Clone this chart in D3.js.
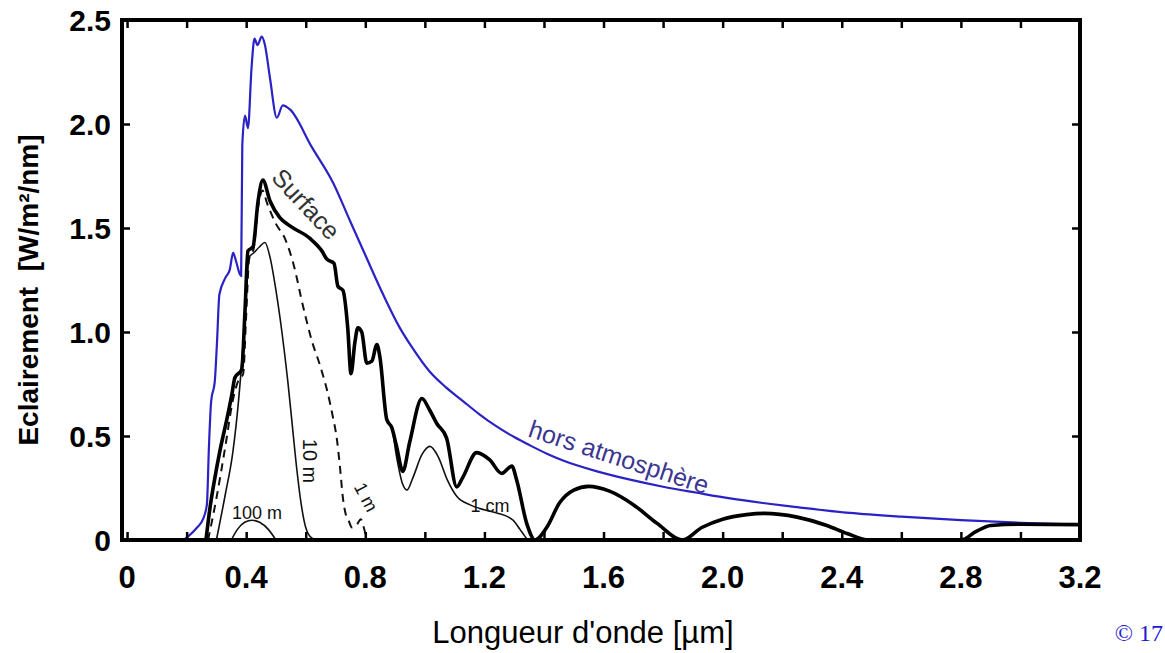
<!DOCTYPE html>
<html>
<head>
<meta charset="utf-8">
<script src="https://cdn.jsdelivr.net/npm/d3@7"></script>
<style>
  body { margin: 0; background: #fff; }
  svg { display: block; }
</style>
</head>
<body>
<script>
'use strict';

// spectral irradiance, [wavelength (µm), W/m²/nm]
const horsAtmosphere = [
  [0.19, 0], [0.235, 0.06], [0.255, 0.10], [0.268, 0.17], [0.275, 0.45], [0.282, 0.66],
  [0.295, 0.77], [0.302, 0.95], [0.31, 1.18], [0.33, 1.26], [0.345, 1.30], [0.356, 1.38],
  [0.366, 1.34], [0.378, 1.28], [0.383, 1.27], [0.387, 1.90], [0.396, 2.04], [0.406, 1.98],
  [0.418, 2.27], [0.428, 2.41], [0.438, 2.38], [0.452, 2.42], [0.463, 2.38], [0.48, 2.22],
  [0.503, 2.03], [0.523, 2.09], [0.547, 2.07], [0.62, 1.89], [0.691, 1.72], [0.75, 1.53],
  [0.8, 1.37], [0.86, 1.18], [0.916, 1.02], [0.96, 0.92], [1.016, 0.81], [1.07, 0.735],
  [1.128, 0.668], [1.18, 0.608], [1.242, 0.545], [1.3, 0.495], [1.353, 0.455], [1.41, 0.415],
  [1.464, 0.382], [1.578, 0.33], [1.689, 0.29], [1.80, 0.256], [1.914, 0.227], [2.025, 0.20],
  [2.135, 0.178], [2.25, 0.158], [2.427, 0.13], [2.6, 0.112], [2.8, 0.096], [3.0, 0.083],
  [3.2, 0.074]
];

const surface = [
  [0.265, 0], [0.278, 0.15], [0.295, 0.30], [0.312, 0.43], [0.335, 0.58], [0.352, 0.70],
  [0.362, 0.78], [0.385, 0.82], [0.396, 1.10], [0.406, 1.39], [0.423, 1.41], [0.44, 1.63],
  [0.456, 1.73], [0.48, 1.63], [0.513, 1.55], [0.547, 1.51], [0.614, 1.45], [0.654, 1.39],
  [0.671, 1.35], [0.695, 1.33], [0.708, 1.22], [0.725, 1.20], [0.741, 1.02], [0.752, 0.80],
  [0.765, 0.95], [0.775, 1.02], [0.788, 1.00], [0.805, 0.85], [0.822, 0.86], [0.839, 0.94],
  [0.849, 0.88], [0.872, 0.58], [0.889, 0.54], [0.905, 0.45], [0.926, 0.33], [0.949, 0.47],
  [0.99, 0.68], [1.016, 0.625], [1.04, 0.56], [1.073, 0.49], [1.107, 0.255], [1.127, 0.30],
  [1.174, 0.42], [1.218, 0.385], [1.258, 0.32], [1.292, 0.355], [1.308, 0.29], [1.342, 0.08],
  [1.37, 0], [1.409, 0.06], [1.453, 0.18], [1.5, 0.24], [1.55, 0.258], [1.62, 0.235],
  [1.7, 0.17], [1.78, 0.08], [1.865, 0], [1.93, 0.06], [2.0, 0.10], [2.08, 0.122],
  [2.14, 0.128], [2.25, 0.11], [2.35, 0.07], [2.42, 0.03], [2.49, 0], [2.8, 0],
  [2.85, 0.04], [2.9, 0.07], [3.0, 0.076], [3.2, 0.074]
];

// 1 cm depth: same as surface below 0.889 µm
const depth1cmTail = [
  [0.905, 0.40], [0.925, 0.27], [0.94, 0.24], [0.96, 0.30], [0.99, 0.41], [1.017, 0.45],
  [1.045, 0.40], [1.075, 0.29], [1.107, 0.21], [1.15, 0.17], [1.2, 0.145], [1.242, 0.13],
  [1.296, 0.096], [1.32, 0.05], [1.335, 0.02], [1.345, 0]
];

const depth1m = [
  [0.272, 0], [0.30, 0.2], [0.33, 0.45], [0.355, 0.67], [0.372, 0.76], [0.39, 0.80],
  [0.40, 1.08], [0.41, 1.35], [0.425, 1.40], [0.44, 1.60], [0.455, 1.68], [0.47, 1.62],
  [0.50, 1.52], [0.53, 1.45], [0.56, 1.32], [0.59, 1.13], [0.62, 0.96], [0.65, 0.83],
  [0.675, 0.70], [0.69, 0.60], [0.705, 0.48], [0.715, 0.35], [0.725, 0.20], [0.735, 0.12],
  [0.745, 0.09], [0.755, 0.06], [0.77, 0.07], [0.785, 0.10], [0.795, 0.06], [0.805, 0]
];

const depth10m = [
  [0.30, 0], [0.33, 0.22], [0.355, 0.42], [0.375, 0.68], [0.39, 0.95], [0.40, 1.2],
  [0.41, 1.36], [0.425, 1.38], [0.445, 1.41], [0.463, 1.43], [0.48, 1.36], [0.50, 1.20],
  [0.52, 1.0], [0.54, 0.76], [0.555, 0.55], [0.57, 0.34], [0.585, 0.17], [0.60, 0.06],
  [0.62, 0.01], [0.64, 0]
];

const depth100m = [
  [0.35, 0], [0.37, 0.05], [0.395, 0.085], [0.42, 0.095], [0.445, 0.085], [0.475, 0.05], [0.50, 0]
];

const xTicks = [0, 0.2, 0.4, 0.6, 0.8, 1.0, 1.2, 1.4, 1.6, 1.8, 2.0, 2.2, 2.4, 2.6, 2.8, 3.0, 3.2];
const xTickLabels = ["0", "0.4", "0.8", "1.2", "1.6", "2.0", "2.4", "2.8", "3.2"];
const yTickLabels = ["0", "0.5", "1.0", "1.5", "2.0", "2.5"];

const W = 1165, H = 653;
const mLeft = 122, mRight = 1080, mTop = 20, mBottom = 540;

const svg = d3.select("body").append("svg")
    .attr("width", W)
    .attr("height", H)
    .style("background", "#fff");

// Set the ranges
const x = d3.scaleLinear().domain([-0.017, 3.2]).range([mLeft, mRight]);
const y = d3.scaleLinear().domain([0, 2.5]).range([mBottom, mTop]);

const line = d3.line()
    .x(d => x(d[0]))
    .y(d => y(d[1]))
    .curve(d3.curveMonotoneX);

const depth1cm = surface.filter(d => d[0] <= 0.889).concat(depth1cmTail);

// curves
svg.append("path").attr("d", line(horsAtmosphere))
    .style("fill", "none").style("stroke", "#2a22c4").style("stroke-width", 2.2);
svg.append("path").attr("d", line(depth100m))
    .style("fill", "none").style("stroke", "#111").style("stroke-width", 1.6);
svg.append("path").attr("d", line(depth10m))
    .style("fill", "none").style("stroke", "#111").style("stroke-width", 1.6);
svg.append("path").attr("d", line(depth1m))
    .style("fill", "none").style("stroke", "#111").style("stroke-width", 2)
    .style("stroke-dasharray", "8,6");
svg.append("path").attr("d", line(depth1cm))
    .style("fill", "none").style("stroke", "#111").style("stroke-width", 1.6);
svg.append("path").attr("d", line(surface))
    .style("fill", "none").style("stroke", "#000").style("stroke-width", 3.6);

// inner ticks on all four sides
const tickStyle = g => {
    g.select(".domain").remove();
    g.selectAll("line").style("stroke", "#000").style("stroke-width", 2.5);
    g.selectAll("text").remove();
};
svg.append("g").attr("transform", `translate(0,${mBottom})`)
    .call(d3.axisBottom(x).tickValues(xTicks).tickSize(-8)).call(tickStyle);
svg.append("g").attr("transform", `translate(0,${mTop})`)
    .call(d3.axisTop(x).tickValues(xTicks).tickSize(-8)).call(tickStyle);
svg.append("g").attr("transform", `translate(${mLeft},0)`)
    .call(d3.axisLeft(y).ticks(5).tickSize(-8)).call(tickStyle);
svg.append("g").attr("transform", `translate(${mRight},0)`)
    .call(d3.axisRight(y).ticks(5).tickSize(-8)).call(tickStyle);

// frame
svg.append("rect")
    .attr("x", mLeft).attr("y", mTop)
    .attr("width", mRight - mLeft).attr("height", mBottom - mTop)
    .style("fill", "none").style("stroke", "#000").style("stroke-width", 4);

// tick labels
svg.append("g").selectAll("text")
    .data(xTickLabels)
    .enter().append("text")
    .attr("x", d => x(+d))
    .attr("y", 588)
    .attr("text-anchor", "middle")
    .style("font-family", "'Liberation Sans', Arial, sans-serif")
    .style("font-weight", "bold")
    .style("font-size", "31px")
    .text(d => d);

svg.append("g").selectAll("text")
    .data(yTickLabels)
    .enter().append("text")
    .attr("x", 111)
    .attr("y", d => y(+d) + 11)
    .attr("text-anchor", "end")
    .style("font-family", "'Liberation Sans', Arial, sans-serif")
    .style("font-weight", "bold")
    .style("font-size", "30px")
    .text(d => d);

// axis titles
svg.append("text")
    .attr("transform", "translate(38,290) rotate(-90)")
    .attr("text-anchor", "middle")
    .style("font-family", "'Liberation Sans', Arial, sans-serif")
    .style("font-weight", "bold")
    .style("font-size", "28px")
    .style("white-space", "pre")
    .text("Eclairement  [W/m²/nm]");

svg.append("text")
    .attr("x", 583).attr("y", 643)
    .attr("text-anchor", "middle")
    .style("font-family", "'Liberation Sans', Arial, sans-serif")
    .style("font-size", "31px")
    .style("font-weight", 500)
    .text("Longueur d'onde [µm]");

// curve labels
const labelFont = "'Liberation Sans', Arial, sans-serif";
const curveLabel = (txt, cx, cy, angle, size, color) => {
    svg.append("text")
        .attr("transform", `translate(${cx},${cy}) rotate(${angle})`)
        .attr("text-anchor", "middle")
        .attr("dy", "0.35em")
        .style("font-family", labelFont)
        .style("font-size", size + "px")
        .style("fill", color)
        .text(txt);
};
curveLabel("Surface", 306, 204, 47, 25, "#333");
curveLabel("hors atmosphère", 619, 457, 18, 25, "#3b3690");
curveLabel("10 m", 310, 461, 90, 20, "#111");
curveLabel("1 m", 366, 497, 62, 18, "#111");
curveLabel("100 m", 257, 513, 0, 18, "#111");
curveLabel("1 cm", 490, 506, 0, 18, "#111");

svg.append("text")
    .attr("x", 1163).attr("y", 641)
    .attr("text-anchor", "end")
    .style("font-family", "'Liberation Serif', 'Times New Roman', serif")
    .style("font-size", "24px")
    .style("fill", "#1a1ad0")
    .text("© 17");
</script>
</body>
</html>
